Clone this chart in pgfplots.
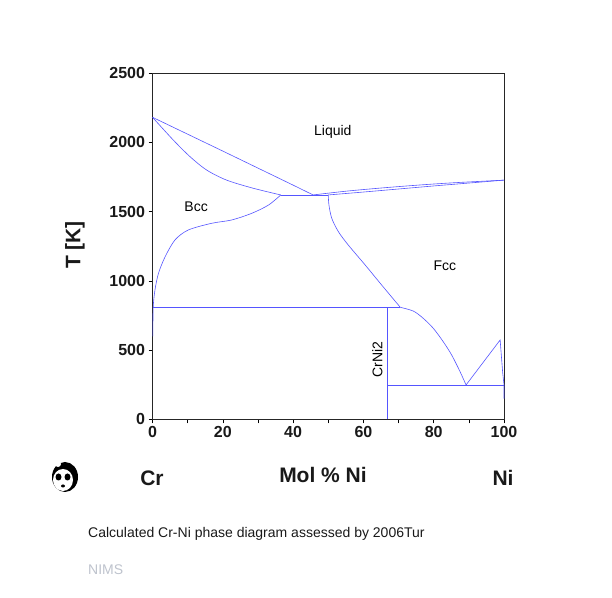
\documentclass[border=0pt]{standalone}
\usepackage{fontspec}
\setmainfont{Liberation Sans}
\usepackage{pgfplots}
\pgfplotsset{compat=1.18}
\definecolor{pd}{RGB}{85,85,255}
\definecolor{nims}{RGB}{190,195,205}
\tikzset{pl/.style={pd, line width=0.6bp, mark=none}}
\begin{document}
\begin{tikzpicture}[x=1bp,y=1bp]
\useasboundingbox (0,0) rectangle (612,598);
\begin{axis}[at={(152.5bp,178.7bp)}, anchor=south west, scale only axis,
  width=351.5bp, height=346bp,
  xmin=0, xmax=100, ymin=0, ymax=2500,
  xtick={0,20,...,100}, minor xtick={10,30,...,90},
  ytick={0,500,...,2500},
  xtick pos=bottom, ytick pos=left,
  tick align=outside, major tick length=4bp, minor tick length=4bp,
  tick style={black, line width=0.6bp},
  axis line style={black!85, line width=0.8bp},
  /pgf/number format/assume math mode=true,
  /pgf/number format/set thousands separator={},
  ticklabel style={font=\bfseries\fontsize{16bp}{19bp}\selectfont, text=black!90},
  clip=false]
% liquidus Cr side
\addplot[pl] coordinates {(0,2182) (10,2060) (20,1938) (30,1815) (40,1692) (45.7,1621)};
% bcc solidus
\addplot[pl, smooth, tension=0.5] coordinates {(0,2182) (5.9,2018) (10.7,1897) (15.4,1801) (21.1,1728) (28.7,1669) (36.5,1621)};
% eutectic
\addplot[pl] coordinates {(36.5,1621) (50,1621)};
% liquidus Ni side
\addplot[pl, smooth] coordinates {(45.7,1621) (55,1648) (65,1671) (75,1691) (85,1708) (100,1728)};
% fcc solidus
\addplot[pl, smooth] coordinates {(50,1621) (60,1642) (70,1664) (80,1686) (90,1707) (100,1728)};
% fcc solvus (Cr side)
\addplot[pl, smooth, tension=0.5] coordinates {(50.0,1621) (50.2,1548) (51.0,1452) (52.9,1355) (55.7,1259) (60.5,1115) (65.2,970) (70.5,809)};
% fcc / CrNi2
\addplot[pl, smooth, tension=0.5] coordinates {(70.5,809) (74.2,782) (77.0,730) (79.9,657) (82.7,561) (85.1,465) (87.5,344) (89.2,248)};
\addplot[pl] coordinates {(89.2,248) (98.9,573) (99.6,344) (100,248) (100,150)};
% invariants
\addplot[pl] coordinates {(66.8,248) (100,248)};
\addplot[pl] coordinates {(66.8,0) (66.8,809)};
\addplot[pl] coordinates {(0,809) (70.5,809)};
% bcc solvus
\addplot[pl, smooth, tension=0.5] coordinates {(0.1,600) (0.2,809) (0.7,934) (1.7,1055) (3.6,1175) (6.4,1296) (10.2,1368) (16.8,1416) (22.5,1440) (28.2,1488) (33.0,1548) (36.5,1621)};
\node[font=\fontsize{14bp}{17bp}\selectfont] at (axis cs:51.3,2080) {Liquid};
\node[font=\fontsize{14bp}{17bp}\selectfont] at (axis cs:12.4,1534) {Bcc};
\node[font=\fontsize{14bp}{17bp}\selectfont] at (axis cs:83.2,1108) {Fcc};
\node[font=\fontsize{14bp}{17bp}\selectfont, rotate=90] at (axis cs:64.0,430) {CrNi2};
\end{axis}
\node[font=\bfseries\fontsize{21bp}{25bp}\selectfont, text=black!90] at (152,120) {Cr};
\node[font=\bfseries\fontsize{21bp}{25bp}\selectfont, text=black!90] at (323,123) {Mol \% Ni};
\node[font=\bfseries\fontsize{21bp}{25bp}\selectfont, text=black!90] at (503,120) {Ni};
\node[font=\bfseries\fontsize{21bp}{25bp}\selectfont, text=black!90, rotate=90] at (75,353) {T [K]};
\node[anchor=west, inner sep=0, font=\fontsize{14bp}{17bp}\selectfont, text=black!90] at (88,64) {Calculated Cr-Ni phase diagram assessed by 2006Tur};
\node[anchor=west, inner sep=0, font=\fontsize{14bp}{17bp}\selectfont, text=nims] at (88,28) {NIMS};
% panda icon
\fill[black] (65,121) ellipse (13 and 15);
\fill[white] (63,118) ellipse (10 and 11);
\fill[black] (58.5,121) ellipse (3 and 3.5);
\fill[black] (67.5,121) ellipse (3 and 3.5);
\fill[black] (63,112) ellipse (2 and 1.5);
\fill[white] (58,134) circle (3);
\end{tikzpicture}
\end{document}
